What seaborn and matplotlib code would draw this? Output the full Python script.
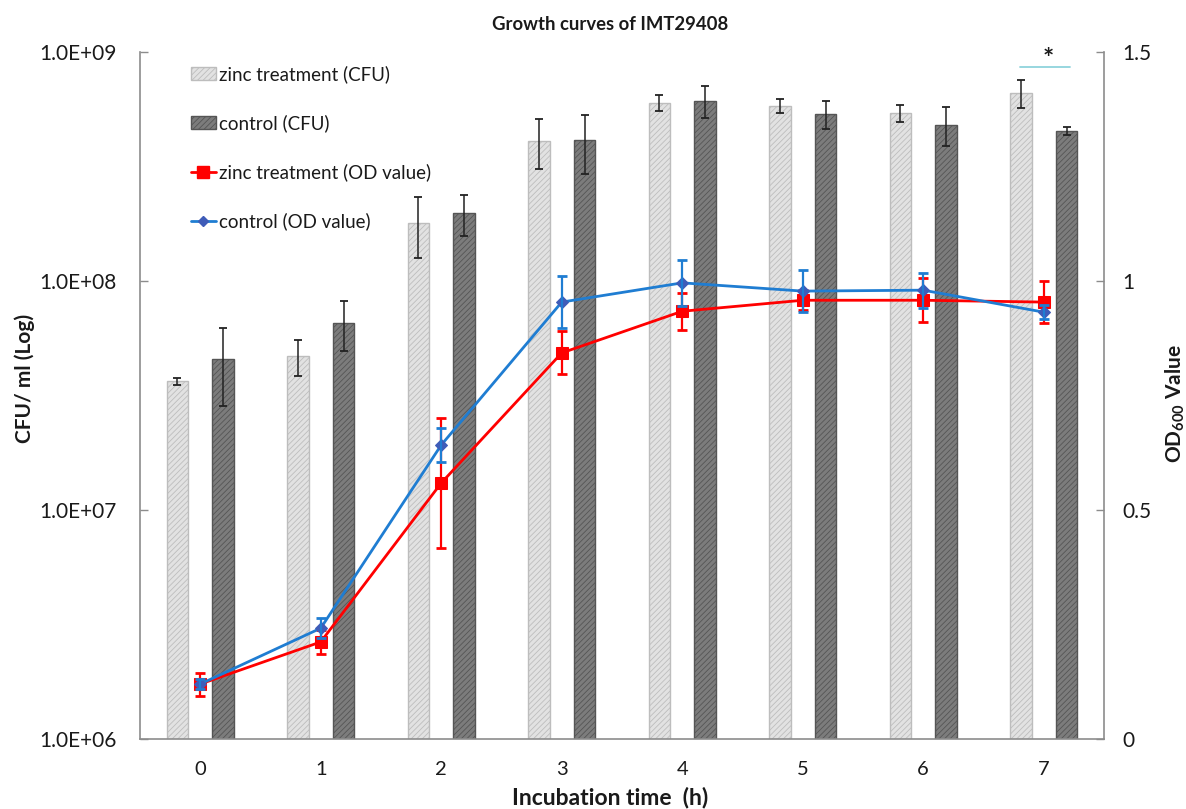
import numpy as np
import pandas as pd
import matplotlib
matplotlib.use("Agg")
import matplotlib.pyplot as plt
import seaborn as sns
from matplotlib.ticker import FixedLocator, NullLocator, FuncFormatter
from matplotlib.lines import Line2D
from matplotlib.patches import Patch

# ---------------- data ----------------
hours = [0, 1, 2, 3, 4, 5, 6, 7]
zinc_cfu = [3.66e7, 4.70e7, 1.79e8, 4.09e8, 5.99e8, 5.81e8, 5.42e8, 6.62e8]
zinc_cfu_sd = [0.13e7, 0.85e7, 0.53e8, 1.0e8, 0.48e8, 0.40e8, 0.46e8, 0.95e8]
control_cfu = [4.56e7, 6.55e7, 1.98e8, 4.13e8, 6.11e8, 5.36e8, 4.80e8, 4.52e8]
control_cfu_sd = [1.7e7, 1.6e7, 0.40e8, 1.2e8, 0.98e8, 0.75e8, 0.93e8, 0.2e8]
zinc_od = [0.120, 0.212, 0.559, 0.843, 0.934, 0.958, 0.958, 0.954]
zinc_od_sd = [0.025, 0.026, 0.143, 0.047, 0.040, 0.022, 0.048, 0.045]
control_od = [0.120, 0.242, 0.642, 0.954, 0.996, 0.978, 0.980, 0.932]
control_od_sd = [0.010, 0.022, 0.037, 0.057, 0.050, 0.045, 0.038, 0.016]
left_ticks = [1e6, 1e7, 1e8, 1e9]
right_ticks = [0, 0.5, 1, 1.5]
series_names = ["zinc treatment (CFU)", "control (CFU)",
                "zinc treatment (OD value)", "control (OD value)"]
sig_hour = 7
sig_level = 8.6e8

# ---------------- style ----------------
sns.set_theme(style="white")
plt.rcParams["font.family"] = ["Lato", "DejaVu Sans"]
plt.rcParams["hatch.linewidth"] = 0.6
plt.rcParams["mathtext.fontset"] = "custom"
plt.rcParams["mathtext.rm"] = "Lato"
plt.rcParams["mathtext.bf"] = "Lato:bold"
plt.rcParams["mathtext.it"] = "Lato:italic"

light_face, light_hatch, light_edge = "#e2e2e2", "#bdbdbd", "#7c7c7c"
dark_face, dark_hatch, dark_edge = "#7c7c7c", "#555555", "#383838"
red = "#ff0000"
blue = "#1f7dd2"
blue_marker = "#3f5cb8"
axis_gray = "#8c8c8c"
text_color = "#1a1a1a"


def style_bar(p, fc, hc, ec):
    p.set_facecolor(fc)
    p.set_hatch("//////")
    if hasattr(p, "set_hatchcolor"):
        p.set_edgecolor(ec)
        p.set_hatchcolor(hc)
    else:
        p.set_edgecolor(hc)
    p.set_linewidth(1.0)


fig = plt.figure(figsize=(11.86, 8.09), dpi=100)
ax = fig.add_axes([0.11804, 0.0865, 0.81281, 0.8492])

df = pd.DataFrame({
    "hour": hours * 2,
    "cfu": zinc_cfu + control_cfu,
    "group": [series_names[0]] * len(hours) + [series_names[1]] * len(hours),
})

sns.barplot(data=df, x="hour", y="cfu", hue="group",
            hue_order=series_names[:2], palette=[light_face, dark_face],
            width=0.76, gap=0.53, errorbar=None, legend=False,
            saturation=1, ax=ax)
ax.set_yscale("log")
ax.set_ylim(1e6, 1e9)
ax.set_xlim(-0.5, 7.5)

styles = [(light_face, light_hatch, light_edge), (dark_face, dark_hatch, dark_edge)]
for cont, (fc, hc, ec), vals, sds in zip(ax.containers, styles,
                                         [zinc_cfu, control_cfu],
                                         [zinc_cfu_sd, control_cfu_sd]):
    xs = []
    for bar in cont:
        style_bar(bar, fc, hc, ec)
        xs.append(bar.get_x() + bar.get_width() / 2)
    ax.errorbar(xs, vals, yerr=sds, fmt="none", ecolor="#222222",
                elinewidth=1.1, capsize=3, capthick=1.3, zorder=5)

# y axis (left)
ax.yaxis.set_major_locator(FixedLocator(left_ticks))
ax.yaxis.set_minor_locator(NullLocator())
ax.yaxis.set_major_formatter(FuncFormatter(lambda v, p: f"{v:.1E}"))
ax.tick_params(axis="y", which="major", direction="in", length=6,
               width=1, color=axis_gray, labelsize=15, pad=17,
               labelcolor=text_color)
ax.tick_params(axis="x", length=0, labelsize=14.5, pad=15.5,
               labelcolor=text_color)
ax.set_xticks(range(len(hours)))
ax.set_xticklabels([str(h) for h in hours])
for s in ["top", "right"]:
    ax.spines[s].set_visible(False)
for s in ["left", "bottom"]:
    ax.spines[s].set_color(axis_gray)
    ax.spines[s].set_linewidth(1.2)
ax.set_xlabel("")
ax.set_ylabel("")

# significance mark
ax.plot([sig_hour - 0.2, sig_hour + 0.22], [sig_level, sig_level],
        color="#8fd3dc", linewidth=1.3, zorder=6)
ax.text(sig_hour + 0.04, sig_level, "*", ha="center", va="baseline",
        fontsize=19, fontweight="bold", color=text_color)

# right axis: OD
ax2 = ax.twinx()
sns.lineplot(x=hours, y=zinc_od, ax=ax2, color=red, marker="s",
             markersize=9, markeredgecolor=red, linewidth=2.0, zorder=4)
sns.lineplot(x=hours, y=control_od, ax=ax2, color=blue, marker="D",
             markersize=6, markerfacecolor=blue_marker,
             markeredgecolor=blue_marker, linewidth=2.0, zorder=5)
ax2.errorbar(hours, zinc_od, yerr=zinc_od_sd, fmt="none", ecolor=red,
             elinewidth=1.6, capsize=3.5, capthick=2, zorder=4)
ax2.errorbar(hours, control_od, yerr=control_od_sd, fmt="none", ecolor=blue,
             elinewidth=1.6, capsize=3.5, capthick=2, zorder=5)
ax2.set_ylim(0, 1.5)
ax2.set_xlim(-0.5, 7.5)
ax2.yaxis.set_major_locator(FixedLocator(right_ticks))
ax2.yaxis.set_major_formatter(FuncFormatter(lambda v, p: f"{v:g}"))
ax2.tick_params(axis="y", direction="in", length=6, width=1,
                color=axis_gray, labelsize=15, pad=13, labelcolor=text_color)
for s in ["top", "left", "bottom"]:
    ax2.spines[s].set_visible(False)
ax2.spines["right"].set_color(axis_gray)
ax2.spines["right"].set_linewidth(1.2)
ax2.set_ylabel("")
ax2.grid(False)
ax.grid(False)

W, H = 1186.0, 809.0
# axis titles and chart title
fig.text(610 / W, 1 - 797 / H, "Incubation time  (h)", ha="center", va="center",
         fontsize=16.5, fontweight="bold", color=text_color)
fig.text(25 / W, 1 - 378 / H, "CFU/ ml (Log)", ha="center", va="center",
         rotation=90, fontsize=15, fontweight="bold", color=text_color)
fig.text(1175 / W, 1 - 403 / H, r"$\mathbf{OD_{600}\ Value}$", ha="center",
         va="center", rotation=90, fontsize=15, color=text_color)
fig.text(610 / W, 1 - 24 / H, "Growth curves of IMT29408", ha="center",
         va="center", fontsize=13.3, fontweight="bold", color=text_color)

# legend
lp = Patch()
style_bar(lp, light_face, light_hatch, light_edge)
dp = Patch()
style_bar(dp, dark_face, dark_hatch, dark_edge)
handles = [
    lp, dp,
    Line2D([], [], color=red, marker="s", markersize=8, linewidth=2),
    Line2D([], [], color=blue, marker="D", markersize=5,
           markerfacecolor=blue_marker, markeredgecolor=blue_marker, linewidth=2),
]
ax2.legend(handles, series_names, loc="upper left", bbox_to_anchor=(0.045, 0.992),
           frameon=False, fontsize=13.5, labelspacing=1.67, handlelength=1.33,
           handleheight=0.75, handletextpad=0.16, borderaxespad=0.0,
           labelcolor=text_color)

fig.savefig("out.png", dpi=100)
